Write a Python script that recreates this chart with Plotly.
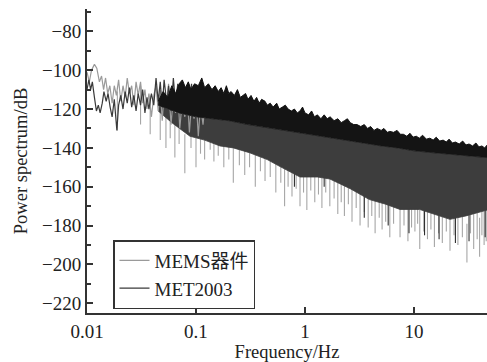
import plotly.graph_objects as go

# ---- data ----
# individual (low-frequency) lines
mems_lf_f = [0.0100, 0.0105, 0.0110, 0.0117, 0.0123, 0.0130, 0.0136, 0.0142, 0.0148, 0.0155,
             0.0162, 0.0170, 0.0178, 0.0186, 0.0195, 0.0204, 0.0214, 0.0224, 0.0234, 0.0245,
             0.0257, 0.0269, 0.0282, 0.0295, 0.0310, 0.0324, 0.0340, 0.0355, 0.0370, 0.0390,
             0.0410, 0.043, 0.045, 0.047, 0.049, 0.051, 0.054, 0.056, 0.059, 0.062, 0.065,
             0.068, 0.071, 0.075, 0.079, 0.083, 0.087, 0.091, 0.096, 0.100, 0.105, 0.110,
             0.116, 0.122]
mems_lf_db = [-101, -106, -100, -97, -99, -106, -103, -110, -104, -112,
              -108, -117, -108, -113, -105, -116, -108, -114, -104, -112,
              -108, -118, -106, -113, -106, -117, -110, -120, -112, -124,
              -113, -108, -121, -110, -126, -112, -119, -107, -128, -114, -122,
              -110, -130, -115, -124, -112, -132, -117, -125, -113, -134, -118,
              -128, -115]

met_lf_f = [0.0100, 0.0104, 0.0108, 0.0112, 0.0117, 0.0122, 0.0127, 0.0132, 0.0138, 0.0143,
            0.0150, 0.0156, 0.0163, 0.0170, 0.0178, 0.0188, 0.0195, 0.0204, 0.0214, 0.0224,
            0.0234, 0.0245, 0.0257, 0.0269, 0.0282, 0.0295, 0.0310, 0.0324, 0.0340, 0.0355,
            0.0370, 0.0390, 0.0410, 0.043, 0.045, 0.047, 0.049, 0.051, 0.054, 0.056, 0.059,
            0.062, 0.065, 0.068, 0.071, 0.075, 0.079, 0.083, 0.087, 0.091, 0.096, 0.100,
            0.105, 0.110, 0.116, 0.122]
met_lf_db = [-110, -105, -110, -106, -114, -121, -118, -122, -117, -111,
             -116, -112, -119, -124, -115, -131, -118, -113, -120, -111,
             -117, -109, -119, -113, -121, -112, -118, -110, -122, -114,
             -120, -112, -118, -104, -116, -106, -119, -105, -117, -108, -121,
             -104, -118, -107, -122, -106, -120, -109, -123, -107, -121, -110,
             -124, -108, -122, -111]

# MET2003 dense band (black): lower envelope
met_band_f = [0.045, 0.07, 0.10, 0.15, 0.20, 0.30, 0.50, 0.70, 1.0, 1.5, 2.0, 3.0, 5.0, 7.0,
              10, 15, 20, 30, 47]
met_lower = [-118, -122, -124, -125, -126, -128, -130, -131.5, -133, -134.5, -135.5, -137, -139, -140,
             -141.5, -142.5, -143, -144, -145]

# MET2003 jagged upper envelope (peaks)
met_peak_f = [0.045, 0.05, 0.055, 0.06, 0.065, 0.07,
              0.075, 0.08, 0.085, 0.09, 0.097, 0.105, 0.113, 0.12, 0.13, 0.14, 0.15, 0.16,
              0.17, 0.18, 0.19, 0.20, 0.21, 0.225, 0.24, 0.255, 0.27, 0.285, 0.30, 0.32, 0.34,
              0.36, 0.38, 0.40, 0.43, 0.45, 0.48, 0.51, 0.55, 0.58, 0.62, 0.66, 0.70, 0.75,
              0.80, 0.85, 0.90, 0.95, 1.0, 1.08, 1.15, 1.22, 1.3, 1.4, 1.5, 1.6, 1.7, 1.85,
              2.0, 2.15, 2.3, 2.45, 2.6, 2.8, 3.0, 3.25, 3.5, 3.75, 4.0, 4.3, 4.6, 5.0, 5.3,
              5.7, 6.0, 6.5, 7.0, 7.5, 8.0, 8.6, 9.2, 9.8, 10.5, 11.2, 12, 13, 14, 15, 16,
              17.2, 18.5, 19.8, 21, 22.5, 24, 26, 28, 30, 32, 34.5, 37, 39.5, 42, 44.5, 47]
met_peak_db = [-116, -111, -114, -108, -112, -107,
               -105, -109, -106, -110, -107, -108, -104, -109, -107, -110, -108, -111,
               -109, -112, -108, -112, -111, -113, -110, -114, -113, -112, -115, -113, -116,
               -114, -117, -115, -116, -118, -117, -119, -117, -120, -119, -118, -120, -121,
               -120, -122, -121, -119, -122, -123, -121, -124, -123, -125, -123, -125, -124, -126,
               -125, -127, -126, -125, -127, -128, -128, -129, -128, -130, -129, -131, -130, -131, -130,
               -132, -131.5, -132, -131, -133, -133, -134, -132.5, -134.5, -134, -135, -133.5, -135.5,
               -135, -136, -134.5, -136.5, -136, -137, -135.5, -137.5, -137, -138, -136.5, -138.5,
               -138, -139, -137.5, -139.5, -139, -140, -138.5]

# MEMS dense band (dark grey) lower envelope
mems_band_f = [0.045, 0.06, 0.088, 0.12, 0.166, 0.22, 0.31, 0.45, 0.59, 0.9,
               1.3, 1.69, 2.6, 3.9, 5.5, 7.45, 11.3, 15, 21.4, 30, 47]
mems_lower = [-121, -127, -134, -136, -139, -140, -142.5, -146, -149.6, -155,
              -155, -156, -161, -166.6, -169, -171.7, -171.7, -174, -176.8, -175, -172]

# MEMS deep spikes (minimum values)
spike_f = [0.019, 0.031, 0.038, 0.047, 0.053, 0.064, 0.079, 0.10, 0.12, 0.146, 0.18, 0.22,
           0.28, 0.35, 0.43, 0.54, 0.65, 0.76, 0.90, 1.04, 1.23, 1.43, 1.69, 2.0, 2.3, 2.7,
           3.2, 3.8, 4.4, 5.1, 6.0, 7.45, 8.8, 10.2, 11.3, 13.3, 15.4, 18.2, 21.4, 25.3,
           30.6, 35.3, 40.0, 44.0]
spike_db = [-131, -128, -133, -136, -140, -145, -153, -150, -146, -147, -150, -158,
            -154, -160, -157, -163, -170, -165, -170, -172, -168, -171, -170, -174, -175, -178,
            -180, -181, -184, -182, -186, -186, -188, -183, -192, -187, -191, -189, -193, -190,
            -199, -192, -196, -190]

# MEMS shorter spikes
short_f = [0.058, 0.07, 0.09, 0.11, 0.135, 0.16, 0.2, 0.25, 0.31, 0.39, 0.48, 0.6, 0.7,
           0.83, 0.97, 1.13, 1.33, 1.55, 1.85, 2.15, 2.5, 2.95, 3.5, 4.1, 4.8, 5.5, 6.5, 8.1,
           9.5, 10.8, 12.3, 14.3, 16.8, 19.8, 23.3, 27.8, 33, 38, 42, 46]
short_db = [-135, -138, -140, -143, -141, -144, -146, -149, -150, -152, -155, -158, -160,
            -161, -163, -162, -164, -163, -166, -168, -169, -171, -173, -175, -176, -178, -179,
            -180, -181, -179, -183, -182, -184, -183, -185, -186, -184, -187, -185, -188]

# darker spikes under the band
dark_f = [0.8, 1.5, 3.5, 5.8, 9.0, 12.5, 17, 24, 32, 45]
dark_db = [-160, -160, -176, -180, -184, -185, -187, -189, -188, -186]

x_tickvals = [0.01, 0.1, 1, 10]
x_ticktext = ["0.01", "0.1", "1", "10"]
y_tickvals = [-220, -200, -180, -160, -140, -120, -100, -80]

FONT = "Liberation Serif, Times New Roman, Noto Sans CJK SC, serif"
C_MEMS = "#9a9a9a"
C_MET = "#3a3a3a"
SPIKE_LEN = 20  # visual length (dB) of each drawn spike segment


def spikes(fs, ds, length):
    xs, ys = [], []
    for f, d in zip(fs, ds):
        xs += [f, f, None]
        ys += [d, d + length, None]
    return xs, ys


fig = go.Figure()

# light-grey spikes, drawn first
for fs, ds in ((spike_f, spike_db), (short_f, short_db)):
    sx, sy = spikes(fs, ds, SPIKE_LEN)
    fig.add_trace(go.Scatter(x=sx, y=sy, mode="lines", line=dict(color="#a6a6a6", width=1.1),
                             showlegend=False, hoverinfo="skip"))
sx, sy = spikes(dark_f, dark_db, SPIKE_LEN)
fig.add_trace(go.Scatter(x=sx, y=sy, mode="lines", line=dict(color="#2e2e2e", width=1.1),
                         showlegend=False, hoverinfo="skip"))

# MEMS dense band (dark grey)
fig.add_trace(go.Scatter(x=met_band_f, y=met_lower, mode="lines", line=dict(width=0),
                         showlegend=False, hoverinfo="skip"))
fig.add_trace(go.Scatter(x=mems_band_f, y=mems_lower, mode="lines", line=dict(width=0.8, color="#3d3d3d"),
                         fill="tonexty", fillcolor="#3d3d3d", showlegend=False, hoverinfo="skip"))

# low-frequency lines (legend entries)
fig.add_trace(go.Scatter(x=mems_lf_f, y=mems_lf_db, mode="lines", name="MEMS器件",
                         line=dict(color=C_MEMS, width=1.2)))
fig.add_trace(go.Scatter(x=met_lf_f, y=met_lf_db, mode="lines", name="MET2003",
                         line=dict(color=C_MET, width=1.2)))

# MET2003 dense band (black) with jagged top
fig.add_trace(go.Scatter(x=met_band_f, y=met_lower, mode="lines", line=dict(width=0.8, color="#141414"),
                         showlegend=False, hoverinfo="skip"))
fig.add_trace(go.Scatter(x=met_peak_f, y=met_peak_db, mode="lines", line=dict(width=1.0, color="#111111"),
                         fill="tonexty", fillcolor="#141414", showlegend=False, hoverinfo="skip"))

axis_common = dict(showline=True, linecolor="#333333", linewidth=2, showgrid=False,
                   zeroline=False, ticks="inside", tickcolor="#333333", tickwidth=1.5,
                   mirror=False, tickfont=dict(family=FONT, size=19, color="#222222"))

fig.update_xaxes(type="log", range=[-2, 1.67], tickvals=x_tickvals, ticktext=x_ticktext,
                 ticklen=6, title=dict(text="Frequency/Hz", font=dict(family=FONT, size=18.5, color="#222222"),
                                       standoff=2), **axis_common)
fig.update_yaxes(range=[-225, -68.5], tickvals=y_tickvals, ticklen=6,
                 minor=dict(ticks="inside", dtick=10, ticklen=4, tickcolor="#333333", tickwidth=1.5),
                 title=dict(text="Power spectrum/dB", font=dict(family=FONT, size=18.5, color="#222222"),
                            standoff=10), **axis_common)

fig.update_layout(
    width=487, height=362,
    margin=dict(l=87, r=0, t=9, b=49),
    paper_bgcolor="white", plot_bgcolor="white",
    showlegend=True,
    legend=dict(x=0.065, y=0.24, xanchor="left", yanchor="top", traceorder="normal",
                bordercolor="#333333", borderwidth=1.5, bgcolor="white",
                font=dict(family=FONT, size=19, color="#222222"),
                tracegroupgap=0, itemwidth=30),
)

fig.write_html("out.html")
